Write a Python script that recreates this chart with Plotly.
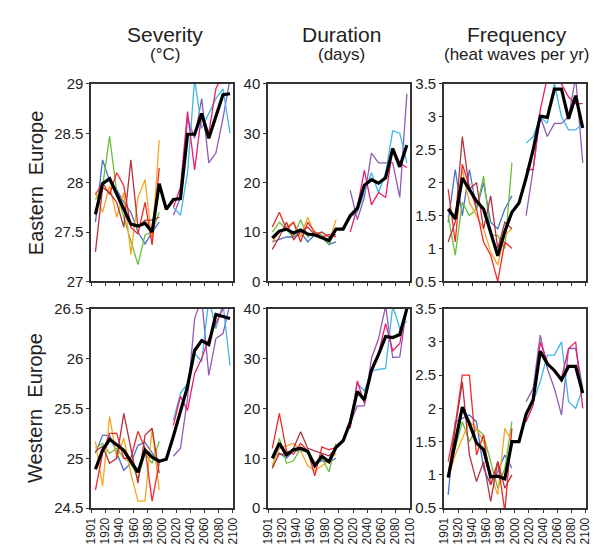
import plotly.graph_objects as go

# ---------------- data ----------------
YEARS_ALL = [1906, 1916, 1926, 1936, 1946, 1956, 1966, 1976, 1986, 1996,
             2006, 2016, 2026, 2036, 2046, 2056, 2066, 2076, 2086, 2096]
YEARS_HIST = [1906, 1916, 1926, 1936, 1946, 1956, 1966, 1976, 1986, 1996]
YEARS_FUT = [2016, 2026, 2036, 2046, 2056, 2066, 2076, 2086, 2096]
XTICK_VALS = [1900, 1920, 1940, 1960, 1980, 2000, 2020, 2040, 2060, 2080, 2100]
XTICK_LABELS = ["1901", "1920", "1940", "1960", "1980", "2000", "2020", "2040", "2060", "2080", "2100"]

COL_TITLES = ["Severity", "Duration", "Frequency"]
COL_UNITS = ["(°C)", "(days)", "(heat waves per yr)"]
ROW_TITLES = ["Eastern  Europe", "Western  Europe"]

HIST_MEMBERS = ["blue", "green", "orange", "red", "darkred"]
FUT_MEMBERS = ["purple", "cyan", "pink"]

# Eastern Europe - Severity
EE_SEV_MEAN = [27.68, 27.99, 28.04, 27.89, 27.73, 27.58, 27.56, 27.59, 27.50, 27.99,
               27.73, 27.83, 27.84, 28.49, 28.49, 28.70, 28.45, 28.68, 28.89, 28.90]
EE_SEV_HIST = {
    "blue":    [27.60, 28.23, 28.02, 27.93, 27.80, 27.70, 27.50, 27.38, 27.50, 27.60],
    "green":   [27.83, 27.96, 28.47, 27.90, 27.65, 27.41, 27.17, 27.47, 27.50, 27.70],
    "orange":  [27.90, 27.70, 27.97, 27.65, 27.90, 27.27, 27.85, 28.03, 27.40, 28.43],
    "red":     [27.88, 28.00, 27.88, 28.10, 27.97, 27.55, 27.48, 27.80, 27.37, 28.15],
    "darkred": [27.30, 27.95, 27.90, 27.80, 27.55, 28.23, 27.55, 27.62, 27.62, 27.65],
}
EE_SEV_FUT = {
    "purple": [27.67, 27.85, 28.65, 28.45, 28.85, 28.20, 28.30, 28.65, 29.05],
    "cyan":   [27.75, 27.67, 28.10, 29.05, 28.55, 28.70, 28.85, 28.95, 28.50],
    "pink":   [27.75, 27.95, 28.72, 28.13, 28.70, 28.50, 28.95, 29.10, 29.10],
}

# Eastern Europe - Duration
EE_DUR_MEAN = [8.8, 10.2, 10.6, 9.8, 10.4, 9.6, 9.4, 8.8, 8.3, 10.6,
               10.6, 13.3, 14.8, 19.5, 20.6, 19.9, 21.0, 26.9, 23.2, 27.6]
EE_DUR_HIST = {
    "blue":    [8.0, 8.5, 9.0, 9.0, 10.0, 8.0, 9.5, 9.0, 7.5, 8.0],
    "green":   [10.0, 12.0, 10.5, 9.0, 12.5, 9.0, 10.0, 9.5, 7.5, 10.5],
    "orange":  [8.0, 10.0, 11.0, 12.0, 9.0, 13.0, 9.5, 9.0, 8.0, 12.5],
    "red":     [11.0, 14.0, 10.5, 12.0, 8.0, 12.0, 10.0, 9.0, 9.5, 9.0],
    "darkred": [6.5, 9.0, 12.0, 8.5, 10.0, 11.0, 9.5, 10.0, 9.0, 9.5],
}
EE_DUR_FUT = {
    "purple": [18.5, 12.5, 17.0, 26.0, 24.0, 24.0, 24.0, 17.0, 38.0],
    "cyan":   [13.0, 14.0, 18.0, 22.0, 18.0, 22.0, 30.5, 30.0, 24.0],
    "pink":   [10.0, 15.0, 22.5, 15.5, 18.0, 17.0, 27.0, 24.0, 23.0],
}

# Eastern Europe - Frequency
EE_FRQ_MEAN = [1.60, 1.45, 2.07, 1.89, 1.72, 1.60, 1.26, 0.89, 1.26, 1.55,
               1.69, 2.07, 2.50, 3.01, 2.99, 3.42, 3.42, 2.97, 3.32, 2.83]
EE_FRQ_HIST = {
    "blue":    [1.40, 2.20, 1.50, 2.20, 1.60, 2.00, 1.40, 1.30, 1.60, 1.80],
    "green":   [1.50, 0.90, 1.70, 1.50, 1.60, 2.10, 1.20, 1.20, 1.00, 2.30],
    "orange":  [1.60, 1.50, 2.20, 1.70, 1.50, 1.30, 0.95, 0.75, 1.20, 1.30],
    "red":     [1.90, 1.10, 2.28, 1.95, 1.60, 1.10, 0.90, 0.50, 1.10, 1.00],
    "darkred": [1.10, 1.40, 2.70, 1.90, 2.00, 1.30, 1.80, 1.00, 1.40, 1.30],
}
EE_FRQ_FUT = {
    "purple": [1.50, 2.20, 3.00, 2.70, 2.90, 2.90, 3.00, 3.60, 2.30],
    "cyan":   [2.60, 2.70, 3.00, 2.90, 3.50, 3.00, 2.80, 2.80, 2.90],
    "pink":   [2.20, 2.20, 3.10, 3.60, 3.60, 3.50, 3.30, 3.20, 3.20],
}

# Western Europe - Severity
WE_SEV_MEAN = [24.89, 25.08, 25.19, 25.13, 25.08, 24.97, 24.86, 25.08, 25.01, 24.97,
               24.99, 25.22, 25.46, 25.72, 26.08, 26.18, 26.14, 26.44, 26.42, 26.40]
WE_SEV_HIST = {
    "blue":    [25.05, 25.23, 25.23, 25.05, 24.88, 24.95, 25.13, 25.16, 25.05, 24.95],
    "green":   [25.10, 25.15, 25.05, 25.10, 25.00, 24.95, 24.80, 25.05, 24.95, 25.17],
    "orange":  [25.17, 24.72, 25.42, 25.00, 25.20, 24.85, 24.57, 24.57, 25.30, 24.68],
    "red":     [24.68, 25.05, 25.25, 25.25, 25.00, 25.00, 25.27, 25.10, 24.57, 24.95],
    "darkred": [25.07, 25.12, 24.95, 25.00, 25.45, 25.10, 24.75, 25.23, 25.30, 24.85],
}
WE_SEV_FUT = {
    "purple": [25.02, 25.10, 25.60, 26.40, 26.60, 25.83, 26.20, 26.25, 26.55],
    "cyan":   [25.38, 25.65, 25.75, 26.05, 25.97, 26.60, 26.30, 26.55, 25.93],
    "pink":   [25.33, 25.62, 25.48, 25.85, 26.00, 26.20, 26.35, 26.50, 26.55],
}

# Western Europe - Duration
WE_DUR_MEAN = [10.0, 13.0, 10.7, 11.7, 12.0, 11.4, 8.5, 10.4, 9.3, 12.2,
               13.5, 17.2, 23.4, 21.7, 27.6, 30.8, 34.4, 34.2, 34.8, 40.0]
WE_DUR_HIST = {
    "blue":    [10.0, 11.0, 10.0, 11.5, 11.5, 11.5, 9.0, 9.5, 9.2, 10.0],
    "green":   [8.0, 14.0, 9.0, 9.5, 12.0, 11.0, 8.3, 10.0, 7.3, 13.0],
    "orange":  [8.5, 12.0, 12.5, 13.0, 11.5, 8.5, 7.5, 8.5, 9.5, 11.0],
    "red":     [12.0, 19.0, 11.5, 10.8, 13.0, 11.5, 6.5, 12.3, 11.7, 12.2],
    "darkred": [8.0, 11.0, 10.5, 12.0, 15.3, 12.0, 11.5, 11.0, 10.5, 12.0],
}
WE_DUR_FUT = {
    "purple": [17.0, 20.5, 20.5, 30.0, 34.0, 40.5, 30.2, 30.3, 40.5],
    "cyan":   [17.0, 25.0, 23.5, 27.5, 27.8, 28.0, 40.5, 36.0, 37.5],
    "pink":   [16.0, 25.5, 21.0, 28.0, 31.0, 37.0, 31.5, 33.0, 40.5],
}

# Western Europe - Frequency
WE_FRQ_MEAN = [0.96, 1.50, 2.02, 1.77, 1.48, 1.38, 0.97, 0.98, 0.94, 1.50,
               1.50, 1.91, 2.13, 2.86, 2.67, 2.57, 2.43, 2.63, 2.63, 2.23]
WE_FRQ_HIST = {
    "blue":    [0.70, 1.80, 1.85, 1.90, 1.80, 1.10, 0.85, 1.05, 1.30, 1.10],
    "green":   [1.00, 1.40, 1.80, 1.50, 1.70, 1.60, 1.20, 0.80, 1.10, 1.80],
    "orange":  [0.95, 1.30, 1.55, 1.80, 1.70, 1.50, 1.00, 0.70, 1.70, 1.50],
    "red":     [1.20, 1.75, 2.50, 2.50, 1.30, 1.60, 0.85, 1.20, 0.45, 1.70],
    "darkred": [1.00, 1.70, 2.40, 1.30, 0.90, 1.20, 0.60, 1.20, 0.80, 1.00],
}
WE_FRQ_FUT = {
    "purple": [2.10, 2.30, 3.10, 2.60, 2.30, 1.90, 2.90, 2.90, 2.30],
    "cyan":   [1.90, 2.10, 2.40, 2.80, 2.80, 3.00, 2.10, 2.00, 2.30],
    "pink":   [1.80, 2.05, 3.00, 2.70, 2.55, 2.45, 2.90, 3.00, 2.00],
}

Y_RANGES = [[[27, 29], [0, 40], [0.5, 3.5]],
            [[24.5, 26.5], [0, 40], [0.5, 3.5]]]
Y_DTICKS = [[0.5, 10, 0.5], [0.5, 10, 0.5]]

PANELS = [
    [(EE_SEV_MEAN, EE_SEV_HIST, EE_SEV_FUT),
     (EE_DUR_MEAN, EE_DUR_HIST, EE_DUR_FUT),
     (EE_FRQ_MEAN, EE_FRQ_HIST, EE_FRQ_FUT)],
    [(WE_SEV_MEAN, WE_SEV_HIST, WE_SEV_FUT),
     (WE_DUR_MEAN, WE_DUR_HIST, WE_DUR_FUT),
     (WE_FRQ_MEAN, WE_FRQ_HIST, WE_FRQ_FUT)],
]

# ---------------- style ----------------
COLORS = {
    "blue": "#4a6fd0",
    "green": "#6abf3a",
    "orange": "#f5a623",
    "red": "#ee2a2a",
    "darkred": "#b5313f",
    "purple": "#8e5bb5",
    "cyan": "#3fb6e8",
    "pink": "#ec1c6b",
}
W, H = 609, 544
COL_PX = [(78, 223), (259, 404), (439, 584)]
ROW_PX = [(69, 273), (301, 507)]
FONT = "Liberation Sans, Arial, sans-serif"
AXIS_COLOR = "#333333"
TEXT_COLOR = "#222222"

fig = go.Figure()
layout = dict(
    width=W, height=H,
    margin=dict(l=0, r=0, t=0, b=0),
    paper_bgcolor="white", plot_bgcolor="white",
    showlegend=False,
    font=dict(family=FONT, color=TEXT_COLOR),
)

idx = 0
for r in range(2):
    for c in range(3):
        idx += 1
        xa = "xaxis" if idx == 1 else f"xaxis{idx}"
        ya = "yaxis" if idx == 1 else f"yaxis{idx}"
        xref = "x" if idx == 1 else f"x{idx}"
        yref = "y" if idx == 1 else f"y{idx}"
        x0, x1 = COL_PX[c]
        y0, y1 = ROW_PX[r]
        layout[xa] = dict(
            domain=[x0 / W, x1 / W], anchor=yref,
            range=[1900, 2100], tickvals=XTICK_VALS,
            ticktext=XTICK_LABELS,
            showticklabels=(r == 1), tickangle=-90,
            ticks="outside", ticklen=3, tickwidth=1, tickcolor=AXIS_COLOR,
            showline=True, linecolor=AXIS_COLOR, linewidth=1.5, mirror=True,
            showgrid=False, zeroline=False,
            tickfont=dict(size=12, family=FONT, color=TEXT_COLOR),
        )
        lo, hi = Y_RANGES[r][c]
        layout[ya] = dict(
            domain=[1 - y1 / H, 1 - y0 / H], anchor=xref,
            range=[lo, hi], dtick=Y_DTICKS[r][c], tick0=lo,
            ticks="outside", ticklen=3, tickwidth=1, tickcolor=AXIS_COLOR,
            showline=True, linecolor=AXIS_COLOR, linewidth=1.5, mirror=True,
            showgrid=False, zeroline=False,
            tickfont=dict(size=15, family=FONT, color=TEXT_COLOR),
        )
        mean, hist, fut = PANELS[r][c]
        for name in HIST_MEMBERS:
            fig.add_trace(go.Scatter(x=YEARS_HIST, y=hist[name], mode="lines",
                                     line=dict(color=COLORS[name], width=1.3),
                                     xaxis=xref, yaxis=yref, hoverinfo="skip"))
        for name in FUT_MEMBERS:
            fig.add_trace(go.Scatter(x=YEARS_FUT, y=fut[name], mode="lines",
                                     line=dict(color=COLORS[name], width=1.3),
                                     xaxis=xref, yaxis=yref, hoverinfo="skip"))
        fig.add_trace(go.Scatter(x=YEARS_ALL, y=mean, mode="lines",
                                 line=dict(color="black", width=3.2),
                                 xaxis=xref, yaxis=yref, hoverinfo="skip"))

annotations = []
TITLE_X = [154, 334, 514]
for c in range(3):
    xc = TITLE_X[c] / W
    annotations.append(dict(text=COL_TITLES[c], x=xc, y=1 - 18 / H, xref="paper", yref="paper",
                            showarrow=False, xanchor="center", yanchor="middle",
                            font=dict(size=21, family=FONT, color=TEXT_COLOR)))
    annotations.append(dict(text=COL_UNITS[c], x=xc, y=1 - 39 / H, xref="paper", yref="paper",
                            showarrow=False, xanchor="center", yanchor="middle",
                            font=dict(size=17, family=FONT, color=TEXT_COLOR)))
for r in range(2):
    yc = 1 - (ROW_PX[r][0] + ROW_PX[r][1]) / 2 / H
    annotations.append(dict(text=ROW_TITLES[r], x=21 / W, y=yc, xref="paper", yref="paper",
                            showarrow=False, xanchor="center", yanchor="middle", textangle=-90,
                            font=dict(size=20, family=FONT, color=TEXT_COLOR)))
layout["annotations"] = annotations

fig.update_layout(**layout)
fig.write_html("out.html")
